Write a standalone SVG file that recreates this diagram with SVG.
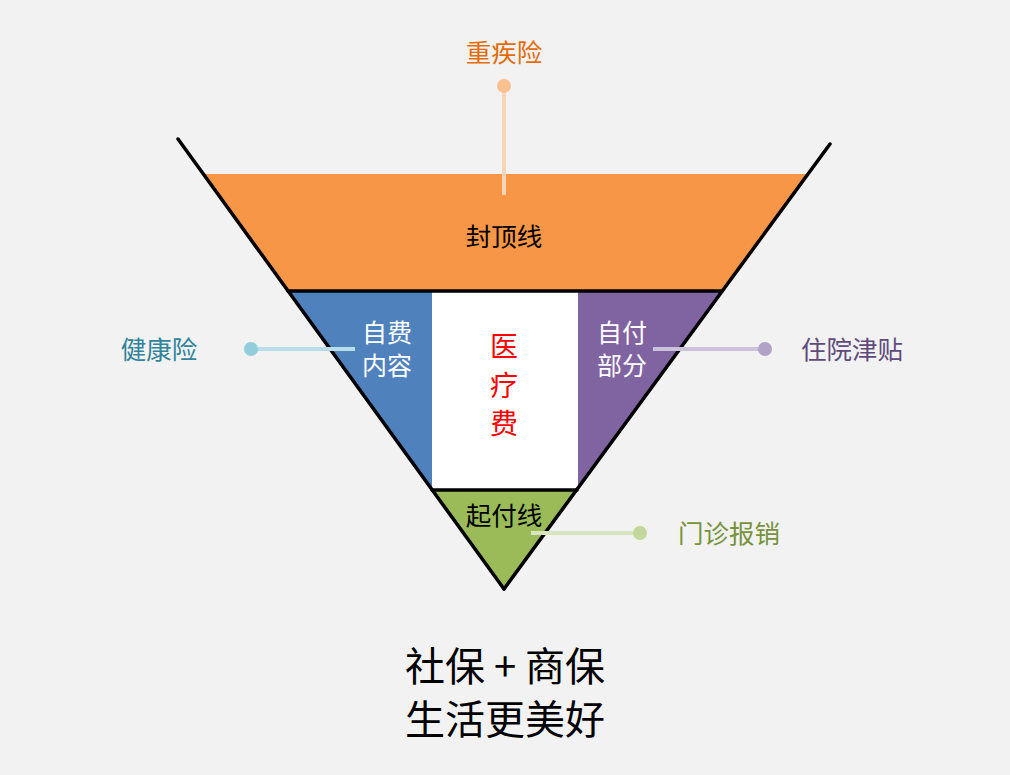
<svg xmlns="http://www.w3.org/2000/svg" width="1010" height="775" viewBox="0 0 1010 775">
<style>
text{font-family:"Noto Sans CJK SC","Liberation Serif",sans-serif;text-anchor:middle;dominant-baseline:central}
.lbl{font-size:25.5px}
.in{font-size:25px;fill:#fff}
.edge{stroke:#000;stroke-width:3.5;fill:none;stroke-linecap:round}
</style>
<rect width="1010" height="775" fill="#F2F2F2"/>
<g id="ceiling">
<polygon points="203,174 808,174 722,291 288,291" fill="#F79646"/>
<text x="504" y="234" class="lbl" fill="#000">封顶线</text>
</g>
<g id="self-pay">
<polygon points="288,291 432,291 432,490" fill="#4F81BD"/>
<text x="387" y="331" class="in">自费</text>
<text x="387" y="364" class="in">内容</text>
</g>
<g id="medical">
<rect x="432" y="292" width="146" height="198" fill="#FFFFFF"/>
<text x="504" y="345" font-size="28" fill="#FF0000">医</text>
<text x="504" y="384" font-size="28" fill="#FF0000">疗</text>
<text x="504" y="422" font-size="28" fill="#FF0000">费</text>
</g>
<g id="copay">
<polygon points="578,291 722,291 577,490 578,490" fill="#8064A2"/>
<text x="622" y="331" class="in">自付</text>
<text x="622" y="364" class="in">部分</text>
</g>
<g id="deductible">
<polygon points="432,490 577,490 504,589" fill="#9BBB59"/>
<text x="504" y="513" class="lbl" fill="#000">起付线</text>
</g>
<g id="frame">
<line x1="178" y1="139" x2="504" y2="589" class="edge"/>
<line x1="830" y1="144" x2="504" y2="589" class="edge"/>
<line x1="288" y1="291" x2="722" y2="291" class="edge"/>
<line x1="432" y1="490" x2="577" y2="490" class="edge"/>
</g>
<g id="connectors">
<line x1="504" y1="86" x2="504" y2="195" stroke="#FBD5B5" stroke-width="4"/>
<circle cx="504" cy="86" r="7" fill="#FAC090"/>
<line x1="251" y1="349" x2="355" y2="349" stroke="#B7DEE8" stroke-width="4"/>
<circle cx="251" cy="349" r="7" fill="#92CDDC"/>
<line x1="653" y1="349" x2="765" y2="349" stroke="#CCC1DA" stroke-width="4"/>
<circle cx="765" cy="349" r="7" fill="#B3A2C7"/>
<line x1="531" y1="533" x2="640" y2="533" stroke="#D7E4BD" stroke-width="4"/>
<circle cx="640" cy="533" r="7" fill="#C3D69B"/>
</g>
<g id="critical-illness"><text x="504" y="50" class="lbl" fill="#E46C0A">重疾险</text></g>
<g id="health"><text x="159" y="347" class="lbl" fill="#31849B">健康险</text></g>
<g id="hospital"><text x="852" y="347" class="lbl" fill="#604A7B">住院津贴</text></g>
<g id="outpatient"><text x="729" y="531" class="lbl" fill="#77933C">门诊报销</text></g>
<g id="slogan">
<text x="505" y="664" font-size="40" fill="#000">社保 + 商保</text>
<text x="505" y="717" font-size="40" fill="#000">生活更美好</text>
</g>
</svg>
